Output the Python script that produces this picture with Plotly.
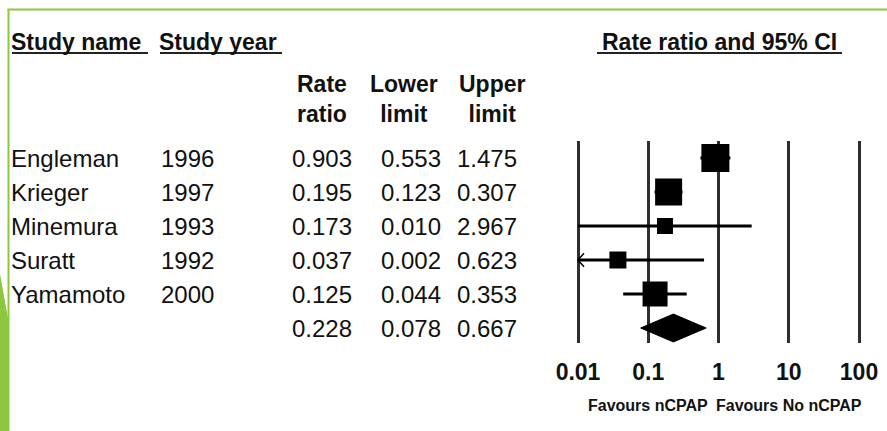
import math
import plotly.graph_objects as go

# ---- data -------------------------------------------------------------
studies = ["Engleman", "Krieger", "Minemura", "Suratt", "Yamamoto"]
years = ["1996", "1997", "1993", "1992", "2000"]
rate_ratio = [0.903, 0.195, 0.173, 0.037, 0.125]
lower_limit = [0.553, 0.123, 0.010, 0.002, 0.044]
upper_limit = [1.475, 0.307, 2.967, 0.623, 0.353]
pooled_rate = 0.228
pooled_lower = 0.078
pooled_upper = 0.667
tick_values = [0.01, 0.1, 1, 10, 100]
tick_labels = ["0.01", "0.1", "1", "10", "100"]

# ---- styling ----------------------------------------------------------
W, H = 887, 431
FONT = "Liberation Sans, Arial, Helvetica, sans-serif"
INK = "#111111"
GRID = "#2e2e2e"
GREEN = "#8dc63f"
box_px = [28, 27, 16, 17, 25]          # study square side (weight)
FS = 23        # bold headings / ticks
FS_CELL = 24   # table body
PAD = 3        # annotation inner padding

def fx(px):
    return px / W

def fy(py):
    return 1 - py / H

# forest axis geometry: 0.01 sits at 578 px, 100 at 859 px
X_LO_PX, X_HI_PX = 578, 859
PPD = (X_HI_PX - X_LO_PX) / 4.0
DOM_L, DOM_R = 556, 884
x_range = [-2 - (X_LO_PX - DOM_L) / PPD, 2 + (DOM_R - X_HI_PX) / PPD]
axis_min = tick_values[0]

# rows: first study at 158 px, 34 px per row
ROW0_PX, ROW_PX = 158, 34
GRID_TOP, GRID_BOT = 141, 343
y_range = [5 + (GRID_BOT - (ROW0_PX + 5 * ROW_PX)) / ROW_PX,
           -(ROW0_PX - GRID_TOP) / ROW_PX]

fig = go.Figure()

for i in range(len(studies)):
    lo = max(lower_limit[i], axis_min)
    fig.add_trace(go.Scatter(
        x=[lo, upper_limit[i]], y=[i, i], mode="lines",
        line=dict(color="black", width=3), hoverinfo="skip", cliponaxis=False))
    if lower_limit[i] < axis_min:
        k = 10 ** (6 / PPD)
        fig.add_trace(go.Scatter(
            x=[axis_min * k, axis_min, axis_min * k], y=[i - 0.2, i, i + 0.2],
            mode="lines", line=dict(color="black", width=1.5),
            hoverinfo="skip", cliponaxis=False))
    fig.add_trace(go.Scatter(
        x=[rate_ratio[i]], y=[i], mode="markers",
        marker=dict(symbol="square", size=box_px[i], color="black",
                    line=dict(width=0)),
        hoverinfo="skip", cliponaxis=False))

# pooled estimate diamond
ps = len(studies)
fig.add_trace(go.Scatter(
    x=[pooled_lower, pooled_rate, pooled_upper, pooled_rate, pooled_lower],
    y=[ps, ps - 0.41, ps, ps + 0.41, ps],
    mode="lines", fill="toself", fillcolor="black",
    line=dict(color="black", width=1), hoverinfo="skip", cliponaxis=False))

ann = []

def shift(xpx, anchor):
    if anchor == "left":
        return xpx - PAD
    if anchor == "right":
        return xpx + PAD
    return xpx

def cell(text, xpx, row, anchor):
    ann.append(dict(text=text, x=fx(shift(xpx, anchor)), xref="paper", y=row, yref="y",
                    xanchor=anchor, yanchor="middle", showarrow=False,
                    font=dict(family=FONT, size=FS_CELL, color=INK)))

def label(text, xpx, ypx, anchor, size=FS):
    ann.append(dict(text=text, x=fx(shift(xpx, anchor)), xref="paper", y=fy(ypx),
                    yref="paper", xanchor=anchor, yanchor="middle",
                    showarrow=False, align="center",
                    font=dict(family=FONT, size=size, color=INK, weight="bold")))

fmt = "{:.3f}".format
for i in range(len(studies)):
    cell(studies[i], 12, i, "left")
    cell(years[i], 162, i, "left")
    cell(fmt(rate_ratio[i]), 351, i, "right")
    cell(fmt(lower_limit[i]), 440, i, "right")
    cell(fmt(upper_limit[i]), 516, i, "right")
cell(fmt(pooled_rate), 351, ps, "right")
cell(fmt(pooled_lower), 440, ps, "right")
cell(fmt(pooled_upper), 516, ps, "right")

# headers
label("Study name", 12, 42, "left")
label("Study year", 160, 42, "left")
label("Rate ratio and 95% CI", 719, 42, "center")
label("Rate<br>ratio", 322, 99, "center")
label("Lower<br>limit", 404, 99, "center")
label("Upper<br>limit", 492, 99, "center")

# direction captions under the axis
for txt, xv in [("Favours nCPAP", 0.1), ("Favours No nCPAP", 10)]:
    ann.append(dict(text=txt, x=math.log10(xv), xref="x", y=fy(405), yref="paper",
                    xanchor="center", yanchor="middle", showarrow=False,
                    font=dict(family=FONT, size=16, color=INK, weight="bold")))

shapes = []
# header underlines
for x0, x1 in [(12, 148), (160, 282), (597, 842)]:
    shapes.append(dict(type="line", xref="paper", yref="paper",
                       x0=fx(x0), x1=fx(x1), y0=fy(53), y1=fy(53),
                       line=dict(color="#222222", width=2)))
# slide frame
shapes.append(dict(type="line", xref="paper", yref="paper",
                   x0=fx(7.5), x1=1, y0=fy(9.5), y1=fy(9.5),
                   line=dict(color=GREEN, width=2)))
shapes.append(dict(type="line", xref="paper", yref="paper",
                   x0=fx(8.5), x1=fx(8.5), y0=fy(9), y1=0,
                   line=dict(color=GREEN, width=2)))
shapes.append(dict(type="path", xref="paper", yref="paper",
                   path="M {},{} L {},{} L {},{} L {},{} Z".format(
                       0, fy(274), fx(8), fy(318), fx(8), 0, 0, 0),
                   fillcolor=GREEN, line=dict(width=0)))

fig.update_layout(
    width=W, height=H,
    margin=dict(l=0, r=0, t=0, b=0),
    paper_bgcolor="white", plot_bgcolor="white",
    showlegend=False,
    annotations=ann, shapes=shapes,
    xaxis=dict(type="log", domain=[fx(DOM_L), fx(DOM_R)], range=x_range,
               tickvals=tick_values, ticktext=tick_labels,
               showgrid=True, gridcolor=GRID, gridwidth=2.5,
               zeroline=False, showline=False, ticks="",
               ticklabelstandoff=13,
               tickfont=dict(family=FONT, size=FS, color=INK, weight="bold"),
               fixedrange=True),
    yaxis=dict(domain=[fy(GRID_BOT), fy(GRID_TOP)], range=y_range,
               visible=False, fixedrange=True),
)

fig.write_html("out.html")
